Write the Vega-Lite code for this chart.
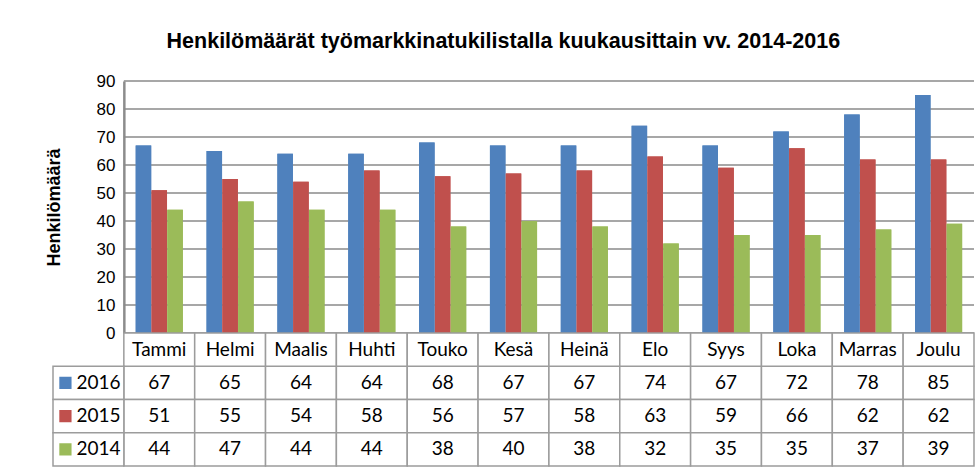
{
  "$schema": "https://vega.github.io/schema/vega-lite/v6.json",
  "padding": {"left": 45, "top": 30, "right": 13, "bottom": 5},
  "background": "white",
  "bounds": "flush",
  "title": {
    "text": "Henkilömäärät työmarkkinatukilistalla kuukausittain vv. 2014-2016",
    "font": "Liberation Sans",
    "fontSize": 21.5,
    "fontWeight": "bold",
    "color": "black",
    "anchor": "middle",
    "offset": 20,
    "dx": -7
  },
  "config": {"view": {"stroke": null}},
  "spacing": 0,
  "datasets": {
    "vals": [
      {"month": "Tammi", "series": "2016", "value": 67},
      {"month": "Helmi", "series": "2016", "value": 65},
      {"month": "Maalis", "series": "2016", "value": 64},
      {"month": "Huhti", "series": "2016", "value": 64},
      {"month": "Touko", "series": "2016", "value": 68},
      {"month": "Kesä", "series": "2016", "value": 67},
      {"month": "Heinä", "series": "2016", "value": 67},
      {"month": "Elo", "series": "2016", "value": 74},
      {"month": "Syys", "series": "2016", "value": 67},
      {"month": "Loka", "series": "2016", "value": 72},
      {"month": "Marras", "series": "2016", "value": 78},
      {"month": "Joulu", "series": "2016", "value": 85},
      {"month": "Tammi", "series": "2015", "value": 51},
      {"month": "Helmi", "series": "2015", "value": 55},
      {"month": "Maalis", "series": "2015", "value": 54},
      {"month": "Huhti", "series": "2015", "value": 58},
      {"month": "Touko", "series": "2015", "value": 56},
      {"month": "Kesä", "series": "2015", "value": 57},
      {"month": "Heinä", "series": "2015", "value": 58},
      {"month": "Elo", "series": "2015", "value": 63},
      {"month": "Syys", "series": "2015", "value": 59},
      {"month": "Loka", "series": "2015", "value": 66},
      {"month": "Marras", "series": "2015", "value": 62},
      {"month": "Joulu", "series": "2015", "value": 62},
      {"month": "Tammi", "series": "2014", "value": 44},
      {"month": "Helmi", "series": "2014", "value": 47},
      {"month": "Maalis", "series": "2014", "value": 44},
      {"month": "Huhti", "series": "2014", "value": 44},
      {"month": "Touko", "series": "2014", "value": 38},
      {"month": "Kesä", "series": "2014", "value": 40},
      {"month": "Heinä", "series": "2014", "value": 38},
      {"month": "Elo", "series": "2014", "value": 32},
      {"month": "Syys", "series": "2014", "value": 35},
      {"month": "Loka", "series": "2014", "value": 35},
      {"month": "Marras", "series": "2014", "value": 37},
      {"month": "Joulu", "series": "2014", "value": 39}
    ],
    "hdr": [
      {"month": "Tammi"}, {"month": "Helmi"}, {"month": "Maalis"}, {"month": "Huhti"},
      {"month": "Touko"}, {"month": "Kesä"}, {"month": "Heinä"}, {"month": "Elo"},
      {"month": "Syys"}, {"month": "Loka"}, {"month": "Marras"}, {"month": "Joulu"}
    ],
    "lbl": [{"series": "2016"}, {"series": "2015"}, {"series": "2014"}],
    "gridvals": [
      {"v": 0}, {"v": 10}, {"v": 20}, {"v": 30}, {"v": 40},
      {"v": 50}, {"v": 60}, {"v": 70}, {"v": 80}, {"v": 90}
    ]
  },
  "vconcat": [
    {
      "width": 921,
      "height": 252,
      "resolve": {"scale": {"x": "independent"}, "axis": {"x": "independent"}},
      "layer": [
        {
          "data": {"name": "vals"},
          "mark": {"type": "bar"},
          "encoding": {
            "x": {
              "field": "month", "type": "nominal",
              "scale": {"domain": ["Lbl", "Tammi", "Helmi", "Maalis", "Huhti", "Touko", "Kesä", "Heinä", "Elo", "Syys", "Loka", "Marras", "Joulu"], "paddingInner": 0, "paddingOuter": 0},
              "axis": null
            },
            "xOffset": {"field": "series", "type": "nominal", "scale": {"domain": ["2016", "2015", "2014"], "paddingOuter": 0.75, "paddingInner": 0.02}},
            "y": {"field": "value", "type": "quantitative", "scale": {"domain": [0, 90], "nice": false},
              "axis": {
                "offset": -70.846,
                "values": [0, 10, 20, 30, 40, 50, 60, 70, 80, 90],
                "tickCount": 10,
                "labelOverlap": false,
                "grid": false,
                "ticks": false,
                "domain": true,
                "domainColor": "#8C8C8C",
                "domainWidth": 2.5,
                "labelFont": "Liberation Sans",
                "labelFontSize": 17,
                "labelColor": "black",
                "labelPadding": 9,
                "title": "Henkilömäärä",
                "titleFont": "Liberation Sans",
                "titleFontSize": 18,
                "titleFontWeight": "bold",
                "titleColor": "black",
                "titlePadding": 32
              }
            },
            "color": {"field": "series", "type": "nominal", "scale": {"domain": ["2016", "2015", "2014"], "range": ["#4F81BD", "#C0504D", "#9BBB59"]}, "legend": null}
          }
        },
        {
          "data": {"name": "gridvals"},
          "mark": {"type": "rule", "color": "#8A8A8A", "strokeWidth": 1.5},
          "encoding": {
            "y": {"field": "v", "type": "quantitative"},
            "x": {"datum": 1, "type": "quantitative", "scale": {"domain": [0, 13], "nice": false, "zero": false}, "axis": null},
            "x2": {"datum": 13}
          }
        },
        {
          "data": {"name": "vals"},
          "mark": {"type": "bar"},
          "encoding": {
            "x": {
              "field": "month", "type": "nominal",
              "scale": {"domain": ["Lbl", "Tammi", "Helmi", "Maalis", "Huhti", "Touko", "Kesä", "Heinä", "Elo", "Syys", "Loka", "Marras", "Joulu"], "paddingInner": 0, "paddingOuter": 0},
              "axis": null
            },
            "xOffset": {"field": "series", "type": "nominal", "scale": {"domain": ["2016", "2015", "2014"], "paddingOuter": 0.75, "paddingInner": 0.02}},
            "y": {"field": "value", "type": "quantitative"},
            "color": {"field": "series", "type": "nominal", "scale": {"domain": ["2016", "2015", "2014"], "range": ["#4F81BD", "#C0504D", "#9BBB59"]}, "legend": null}
          }
        }
      ]
    },
    {
      "width": 921,
      "height": 133,
      "layer": [
        {
          "data": {"name": "vals"},
          "mark": {"type": "rect", "fill": "white", "stroke": "#9C9C9C", "strokeWidth": 1.5},
          "encoding": {
            "x": {"field": "month", "type": "nominal", "scale": {"domain": ["Lbl", "Tammi", "Helmi", "Maalis", "Huhti", "Touko", "Kesä", "Heinä", "Elo", "Syys", "Loka", "Marras", "Joulu"], "paddingInner": 0, "paddingOuter": 0}, "axis": null},
            "y": {"field": "series", "type": "nominal", "scale": {"domain": ["hdr", "2016", "2015", "2014"], "paddingInner": 0, "paddingOuter": 0}, "axis": null}
          }
        },
        {
          "data": {"name": "hdr"},
          "mark": {"type": "rect", "fill": "white", "stroke": "#9C9C9C", "strokeWidth": 1.5},
          "encoding": {
            "x": {"field": "month", "type": "nominal"},
            "y": {"datum": "hdr", "type": "nominal"}
          }
        },
        {
          "data": {"name": "lbl"},
          "mark": {"type": "rect", "fill": "white", "stroke": "#9C9C9C", "strokeWidth": 1.5},
          "encoding": {
            "x": {"datum": "Lbl", "type": "nominal"},
            "y": {"field": "series", "type": "nominal"}
          }
        },
        {
          "data": {"name": "vals"},
          "mark": {"type": "text", "font": "Lato", "fontSize": 19, "color": "black"},
          "encoding": {
            "x": {"field": "month", "type": "nominal"},
            "y": {"field": "series", "type": "nominal"},
            "text": {"field": "value", "type": "quantitative"}
          }
        },
        {
          "data": {"name": "hdr"},
          "mark": {"type": "text", "font": "Lato", "fontSize": 19, "color": "black"},
          "encoding": {
            "x": {"field": "month", "type": "nominal"},
            "y": {"datum": "hdr", "type": "nominal"},
            "text": {"field": "month", "type": "nominal"}
          }
        },
        {
          "data": {"name": "lbl"},
          "mark": {"type": "text", "font": "Lato", "fontSize": 19, "color": "black", "align": "left", "dx": -12},
          "encoding": {
            "x": {"datum": "Lbl", "type": "nominal"},
            "y": {"field": "series", "type": "nominal"},
            "text": {"field": "series", "type": "nominal"}
          }
        },
        {
          "data": {"name": "lbl"},
          "mark": {"type": "point", "shape": "square", "filled": true, "opacity": 1, "size": 150, "xOffset": -23},
          "encoding": {
            "x": {"datum": "Lbl", "type": "nominal"},
            "y": {"field": "series", "type": "nominal"},
            "color": {"field": "series", "type": "nominal", "scale": {"domain": ["2016", "2015", "2014"], "range": ["#4F81BD", "#C0504D", "#9BBB59"]}, "legend": null}
          }
        }
      ]
    }
  ]
}
